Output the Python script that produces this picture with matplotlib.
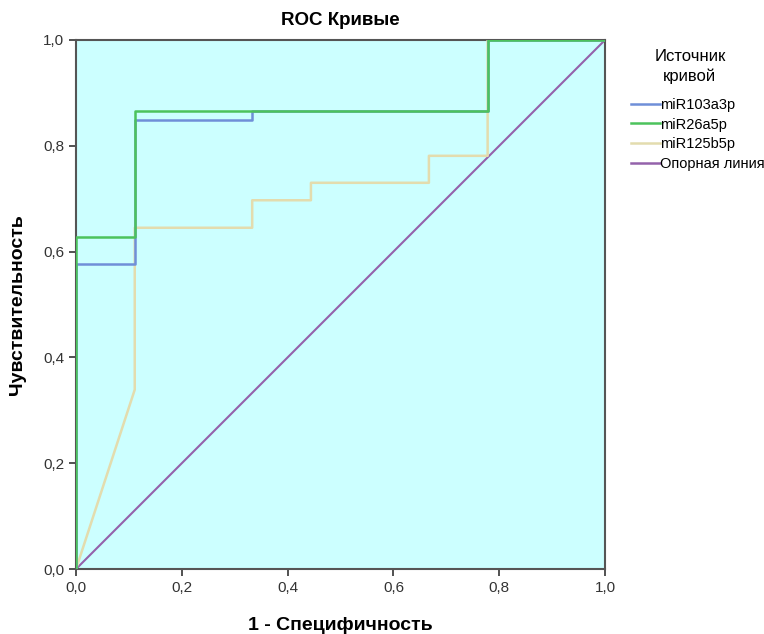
import matplotlib.pyplot as plt
from matplotlib.lines import Line2D

plt.rcParams['font.family'] = ['Liberation Sans', 'DejaVu Sans']

# ROC points (1 - specificity, sensitivity)
fpr_103 = [0, 0, 0.111, 0.111, 0.333, 0.333, 0.778, 0.778, 1.0]
tpr_103 = [0, 0.577, 0.577, 0.848, 0.848, 0.866, 0.866, 1.0, 1.0]

fpr_26 = [0, 0, 0.111, 0.111, 0.778, 0.778, 1.0]
tpr_26 = [0, 0.628, 0.628, 0.866, 0.866, 1.0, 1.0]

fpr_125 = [0, 0.111, 0.111, 0.333, 0.333, 0.444, 0.444, 0.667, 0.667, 0.778, 0.778, 1.0]
tpr_125 = [0, 0.339, 0.645, 0.645, 0.697, 0.697, 0.730, 0.730, 0.781, 0.781, 1.0, 1.0]

ref_x = [0, 1]
ref_y = [0, 1]

labels = ['miR103a3p', 'miR26a5p', 'miR125b5p', 'Опорная линия']
colors = ['#6f8fd8', '#4cc35c', '#e3dcae', '#9462ab']
ticks = [0, 0.2, 0.4, 0.6, 0.8, 1.0]
tick_labels = ['0,0', '0,2', '0,4', '0,6', '0,8', '1,0']

fig = plt.figure(figsize=(7.64, 6.34), dpi=100)
ax = fig.add_axes([0.0995, 0.1025, 0.6925, 0.8345])
ax.set_facecolor('#ccffff')

ax.plot(ref_x, ref_y, color=colors[3], lw=1.5, zorder=2)
ax.plot(fpr_125, tpr_125, color=colors[2], lw=1.8, zorder=3)
ax.plot(fpr_103, tpr_103, color=colors[0], lw=1.8, zorder=4)
ax.plot(fpr_26, tpr_26, color=colors[1], lw=1.8, zorder=5)

ax.set_xlim(0, 1)
ax.set_ylim(0, 1)
ax.set_xticks(ticks)
ax.set_yticks(ticks)
ax.set_xticklabels(tick_labels)
ax.set_yticklabels(tick_labels)
ax.tick_params(direction='out', length=5, width=1.2, labelsize=11, colors='#333333')
for s in ax.spines.values():
    s.set_color('#555555')
    s.set_linewidth(1.5)

ax.set_title('ROC Кривые', fontsize=13.5, fontweight='bold', pad=11)
ax.set_xlabel('1 - Специфичность', fontsize=14, fontweight='bold', labelpad=16)
ax.set_ylabel('Чувствительность', fontsize=14, fontweight='bold', labelpad=12)

# legend title placed by hand, entries below it
fig.text(0.903, 0.922, 'Источник\nкривой', ha='center', va='top', fontsize=12,
         multialignment='center', linespacing=1.3)
handles = [Line2D([0], [0], color=c, lw=1.8) for c in colors]
fig.legend(handles, labels, loc='upper left', bbox_to_anchor=(0.812, 0.862),
           frameon=False, fontsize=10.5, handlelength=2.0, handletextpad=0.05,
           labelspacing=0.4, borderpad=0.2)

fig.savefig('out.png', dpi=100)
